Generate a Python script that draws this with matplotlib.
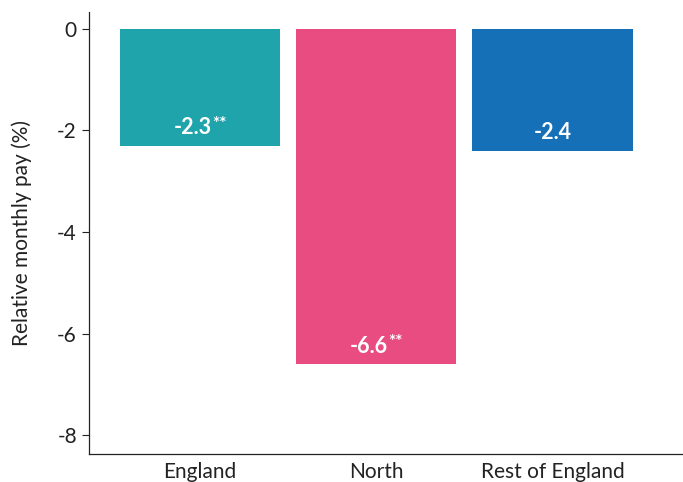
import matplotlib
matplotlib.use("Agg")
import matplotlib.pyplot as plt
from matplotlib.transforms import offset_copy

categories = ["England", "North", "Rest of England"]
values = [-2.3, -6.6, -2.4]
numbers = ["-2.3", "-6.6", "-2.4"]
stars = ["**", "**", ""]
colors = ["#20A4AC", "#E94C80", "#1570B8"]
yticks = [0, -2, -4, -6, -8]

plt.rcParams['font.family'] = ['Lato', 'DejaVu Sans']

fig = plt.figure(figsize=(6.83, 4.82), dpi=100)
ax = fig.add_axes([0.130, 0.058, 0.870, 0.917])

x = list(range(len(categories)))
ax.bar(x, values, width=0.91, color=colors)

ax.set_xlim(-0.63, 2.74)
ax.set_ylim(-8.37, 0.33)
ax.set_yticks(yticks)
ax.set_yticklabels([str(t) for t in yticks])
ax.set_xticks(x)
ax.set_xticklabels(categories)
ax.tick_params(axis='x', length=0, labelsize=15, pad=6, colors='#222222')
ax.tick_params(axis='y', length=5, labelsize=15, width=0.8, colors='#222222')
ax.set_ylabel("Relative monthly pay (%)", fontsize=15, labelpad=18, color='#222222')
for s in ['top', 'right']:
    ax.spines[s].set_visible(False)
for s in ['left', 'bottom']:
    ax.spines[s].set_linewidth(0.9)
    ax.spines[s].set_color('#222222')

fig.canvas.draw()
renderer = fig.canvas.get_renderer()
for xi, v, num, st in zip(x, values, numbers, stars):
    t1 = ax.text(xi, v + 0.35, num, ha='center', va='center', color='white',
                 fontsize=15.5, fontweight='bold')
    if st:
        t2 = ax.text(xi, v + 0.35, st, ha='left', va='center', color='white',
                     fontsize=12.5, fontweight='bold')
        w1 = t1.get_window_extent(renderer).width
        w2 = t2.get_window_extent(renderer).width
        shift = w2 / 2.0
        t1.set_transform(offset_copy(ax.transData, fig=fig, x=-shift, y=0, units='dots'))
        t2.set_transform(offset_copy(ax.transData, fig=fig, x=w1 / 2.0 - shift + 0.5, y=4, units='dots'))

fig.savefig("out.png", dpi=100)
